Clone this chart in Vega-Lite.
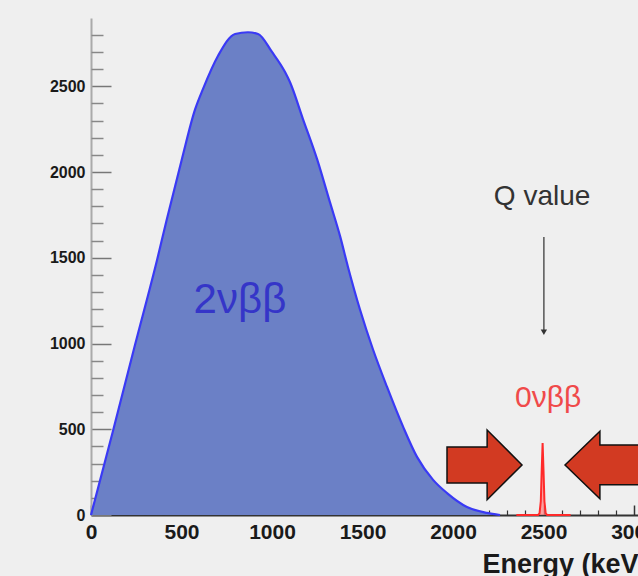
{
  "$schema": "https://vega.github.io/schema/vega-lite/v6.json",
  "width": 547,
  "height": 497,
  "autosize": {"type": "none"},
  "padding": {"left": 91, "top": 18, "right": 0, "bottom": 61},
  "background": "#efefef",
  "config": {
    "view": {"stroke": null, "fill": "#efefef"},
    "axis": {"grid": false, "labelFont": "Liberation Sans", "titleFont": "Liberation Sans"}
  },
  "datasets": {
    "twonu": [
      {"E": 0, "C": 0}, {"E": 120, "C": 484}, {"E": 243, "C": 991}, {"E": 365, "C": 1487},
      {"E": 418, "C": 1720}, {"E": 501, "C": 2070}, {"E": 575, "C": 2365}, {"E": 619, "C": 2485},
      {"E": 702, "C": 2678}, {"E": 796, "C": 2805}, {"E": 867, "C": 2815}, {"E": 923, "C": 2805},
      {"E": 1000, "C": 2700}, {"E": 1072, "C": 2583}, {"E": 1099, "C": 2525}, {"E": 1171, "C": 2309},
      {"E": 1249, "C": 2075}, {"E": 1320, "C": 1824}, {"E": 1376, "C": 1626}, {"E": 1420, "C": 1445},
      {"E": 1486, "C": 1198}, {"E": 1558, "C": 965}, {"E": 1635, "C": 748}, {"E": 1724, "C": 515},
      {"E": 1801, "C": 339}, {"E": 1890, "C": 205}, {"E": 1967, "C": 128}, {"E": 2077, "C": 47},
      {"E": 2188, "C": 12}, {"E": 2260, "C": 0}
    ],
    "zeronu": [
      {"E": 2350, "C": 0}, {"E": 2470, "C": 0}, {"E": 2478, "C": 10}, {"E": 2485, "C": 80},
      {"E": 2490, "C": 260}, {"E": 2495, "C": 420}, {"E": 2500, "C": 260}, {"E": 2505, "C": 80},
      {"E": 2512, "C": 10}, {"E": 2520, "C": 0}, {"E": 2650, "C": 0}
    ],
    "labels": [
      {"E": 823, "C": 1254, "text": "2νββ", "kind": "two"},
      {"E": 2525, "C": 682, "text": "0νββ", "kind": "zero"},
      {"E": 2492, "C": 1854, "text": "Q value", "kind": "q"}
    ],
    "qarrow": [{"E": 2502, "C": 1621, "C2": 1065}],
    "arrows": [
      {"E": 2174, "C": 292, "dir": "right"},
      {"E": 2826, "C": 292, "dir": "left"}
    ]
  },
  "resolve": {"axis": {"x": "independent", "y": "independent"}},
  "layer": [
    {
      "data": {"name": "twonu"},
      "mark": {"type": "area", "interpolate": "monotone", "color": "#6b80c6", "opacity": 1,
               "line": {"color": "#3a3af5", "strokeWidth": 2.2}},
      "encoding": {
        "x": {"field": "E", "type": "quantitative", "scale": {"domain": [0, 3022], "nice": false, "zero": false},
              "axis": {"orient": "bottom", "values": [0, 500, 1000, 1500, 2000, 2500, 3000], "format": "d",
                       "tickSize": -10, "tickColor": "#333", "tickWidth": 1.5,
                       "domainColor": "#333", "domainWidth": 2,
                       "labelFontSize": 21, "labelFontWeight": "bold", "labelColor": "#1a1a1a",
                       "labelPadding": 16, "labelFlush": false, "labelOverlap": false, "labelBound": false,
                       "title": "Energy (keV)", "titleFontSize": 27, "titleFontWeight": "bold", "titleColor": "#1a1a1a",
                       "titleAnchor": "end", "titleAlign": "right", "titleX": 556, "titleY": 57, "titleBaseline": "alphabetic"}},
        "y": {"field": "C", "type": "quantitative", "scale": {"domain": [0, 2898], "nice": false},
              "axis": {"orient": "left", "values": [0, 500, 1000, 1500, 2000, 2500], "format": "d",
                       "tickSize": -20, "tickColor": "#777", "tickWidth": 1.5,
                       "domainColor": "#aaa", "domainWidth": 2,
                       "labelFontSize": 16, "labelFontWeight": "bold", "labelColor": "#1a1a1a",
                       "labelPadding": 26, "labelOverlap": false, "labelBound": false, "labelFlush": false,
                       "title": null}}
      }
    },
    {
      "data": {"name": "zeronu"},
      "mark": {"type": "area", "interpolate": "linear", "color": "#ff8080",
               "line": {"color": "#ff2a2a", "strokeWidth": 2}},
      "encoding": {
        "x": {"field": "E", "type": "quantitative",
              "axis": {"orient": "bottom", "values": [100,200,300,400,600,700,800,900,1100,1200,1300,1400,1600,1700,1800,1900,2100,2200,2300,2400,2600,2700,2800,2900],
                       "tickSize": -5, "tickColor": "#333", "tickWidth": 1.2, "domain": false, "labels": false, "title": null}},
        "y": {"field": "C", "type": "quantitative",
              "axis": {"orient": "left", "values": [100,200,300,400,600,700,800,900,1100,1200,1300,1400,1600,1700,1800,1900,2100,2200,2300,2400,2600,2700,2800],
                       "tickSize": -12, "tickColor": "#888", "tickWidth": 1.5, "domain": false, "labels": false, "title": null}}
      }
    },
    {
      "data": {"name": "arrows"},
      "mark": {"type": "point", "filled": true, "fill": "#d23a22", "stroke": "#111", "strokeWidth": 1.5, "opacity": 1, "size": 5625},
      "encoding": {
        "x": {"field": "E", "type": "quantitative", "axis": null},
        "y": {"field": "C", "type": "quantitative", "axis": null},
        "shape": {"field": "dir", "type": "nominal", "legend": null,
                  "scale": {"domain": ["right", "left"],
                            "range": ["M-1,-0.48L0.07,-0.48L0.07,-0.93L1,0L0.07,0.93L0.07,0.48L-1,0.48Z",
                                      "M1,-0.53L-0.07,-0.53L-0.07,-0.9L-1,0L-0.07,0.9L-0.07,0.53L1,0.53Z"]}}
      }
    },
    {
      "data": {"name": "qarrow"},
      "mark": {"type": "rule", "color": "#555", "strokeWidth": 1.5},
      "encoding": {
        "x": {"field": "E", "type": "quantitative", "axis": null},
        "y": {"field": "C", "type": "quantitative", "axis": null},
        "y2": {"field": "C2"}
      }
    },
    {
      "data": {"name": "qarrow"},
      "mark": {"type": "point", "shape": "triangle-down", "filled": true, "color": "#333", "size": 40, "opacity": 1},
      "encoding": {
        "x": {"field": "E", "type": "quantitative", "axis": null},
        "y": {"field": "C2", "type": "quantitative", "axis": null}
      }
    },
    {
      "data": {"name": "labels"},
      "transform": [{"filter": "datum.kind == 'two'"}],
      "mark": {"type": "text", "font": "Liberation Sans", "fontSize": 42, "color": "#3535c8", "align": "center", "baseline": "middle"},
      "encoding": {
        "x": {"field": "E", "type": "quantitative", "axis": null},
        "y": {"field": "C", "type": "quantitative", "axis": null},
        "text": {"field": "text"}
      }
    },
    {
      "data": {"name": "labels"},
      "transform": [{"filter": "datum.kind == 'zero'"}],
      "mark": {"type": "text", "font": "Liberation Sans", "fontSize": 30, "color": "#f04a4a", "align": "center", "baseline": "middle"},
      "encoding": {
        "x": {"field": "E", "type": "quantitative", "axis": null},
        "y": {"field": "C", "type": "quantitative", "axis": null},
        "text": {"field": "text"}
      }
    },
    {
      "data": {"name": "labels"},
      "transform": [{"filter": "datum.kind == 'q'"}],
      "mark": {"type": "text", "font": "Liberation Sans", "fontSize": 28, "color": "#333", "align": "center", "baseline": "middle"},
      "encoding": {
        "x": {"field": "E", "type": "quantitative", "axis": null},
        "y": {"field": "C", "type": "quantitative", "axis": null},
        "text": {"field": "text"}
      }
    }
  ]
}
